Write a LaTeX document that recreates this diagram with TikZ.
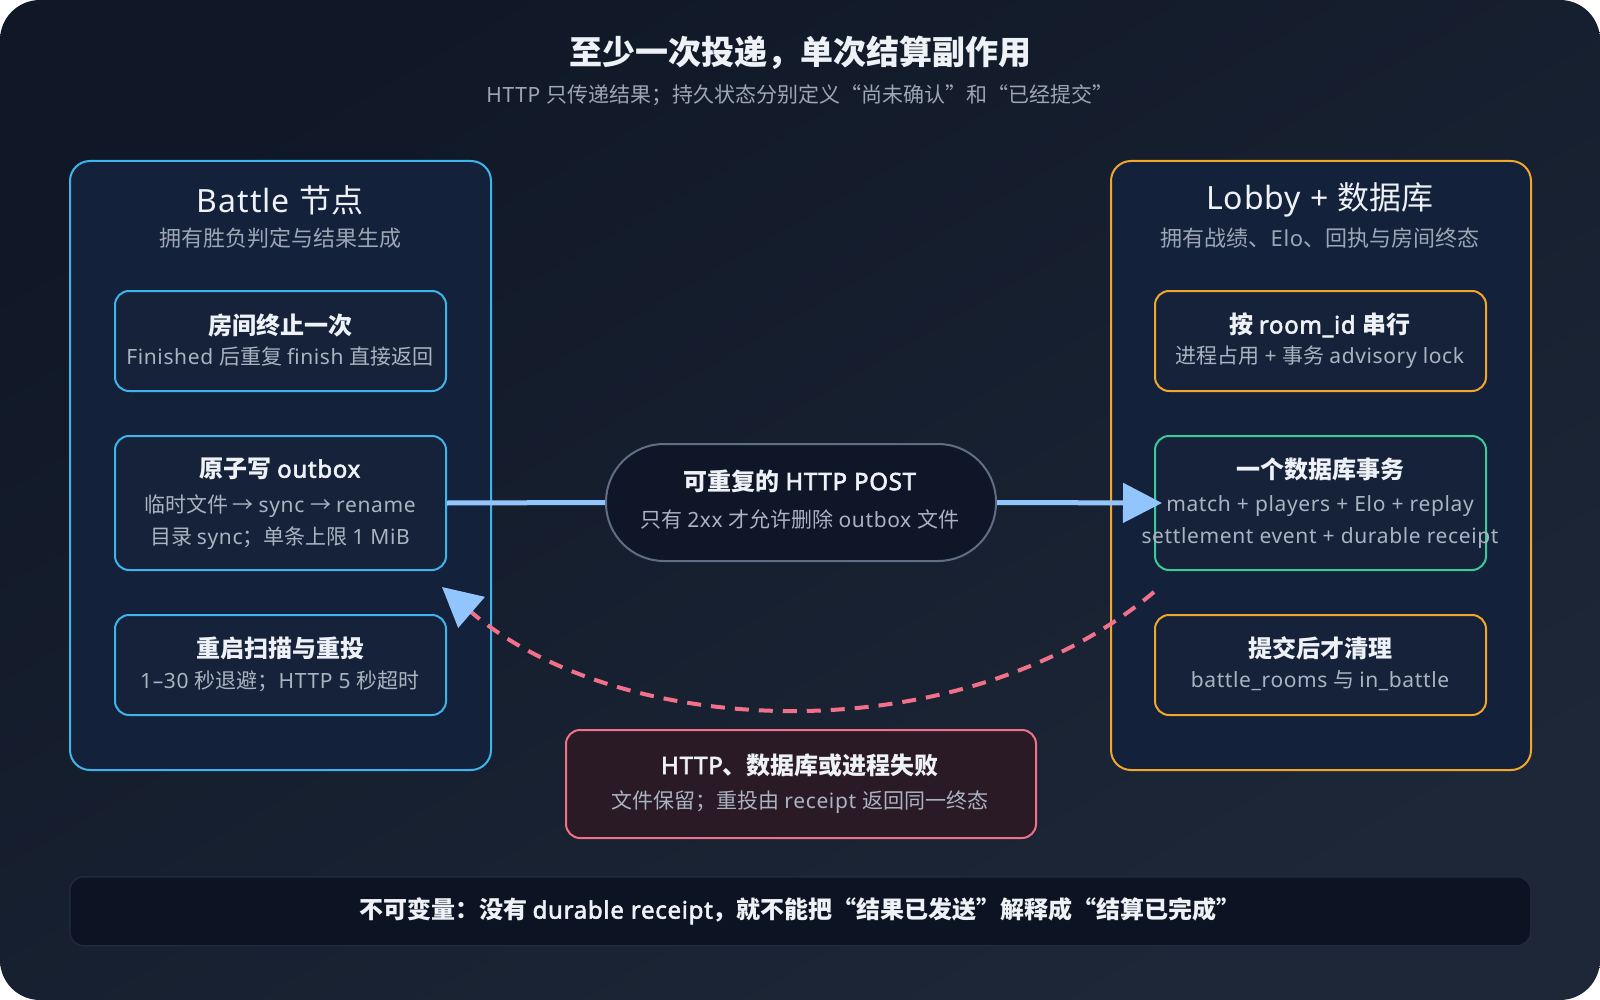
\documentclass[tikz,border=0pt]{standalone}
\usepackage{fontspec}
\setmainfont{Noto Sans}[LetterSpace=3, BoldFont={Noto Sans}, BoldFeatures={FakeBold=2.5}]
\newfontfamily\cjkfont{Noto Sans CJK SC}
\usetikzlibrary{arrows.meta}
% automatic switching between the Latin and the CJK font
\newcount\cjkc
\def\cjkrange#1#2{\cjkc=#1\relax
  \loop\XeTeXcharclass\cjkc=1 \ifnum\cjkc<#2\relax\advance\cjkc by 1 \repeat}
\cjkrange{"4E00}{"9FFF}
\cjkrange{"3000}{"303F}
\cjkrange{"FF00}{"FFEF}
\XeTeXcharclass"2192=1
\XeTeXcharclass"201C=1
\XeTeXcharclass"201D=1
\XeTeXcharclass"2013=0
\XeTeXcharclass"2014=0
\XeTeXinterchartoks 0 1 = {\cjkfont}
\XeTeXinterchartoks 4095 1 = {\cjkfont}
\XeTeXinterchartoks 0 2 = {\cjkfont}
\XeTeXinterchartoks 4095 2 = {\cjkfont}
\XeTeXinterchartoks 0 3 = {\cjkfont}
\XeTeXinterchartoks 4095 3 = {\cjkfont}
\XeTeXinterchartoks 1 0 = {\rmfamily}
\XeTeXinterchartoks 2 0 = {\rmfamily}
\XeTeXinterchartoks 3 0 = {\rmfamily}
\XeTeXinterchartoks 4095 0 = {\rmfamily}
\XeTeXinterchartokenstate=1
\definecolor{bgA}{HTML}{101827}
\definecolor{bgB}{HTML}{1D2737}
\definecolor{contfill}{HTML}{14213A}
\definecolor{boxfill}{HTML}{15223A}
\definecolor{skyb}{HTML}{3DB5EC}
\definecolor{amber}{HTML}{F2A72B}
\definecolor{greenb}{HTML}{3CCB98}
\definecolor{pillb}{HTML}{5F6E85}
\definecolor{pillfill}{HTML}{0E1628}
\definecolor{arrowblue}{HTML}{93C5FD}
\definecolor{rose}{HTML}{F2718A}
\definecolor{redfill}{HTML}{2A1A26}
\definecolor{barfill}{HTML}{0C1424}
\definecolor{barline}{HTML}{1F2A3C}
\definecolor{txtw}{HTML}{EEF2F7}
\definecolor{txtg}{HTML}{9CA6B4}
\definecolor{txtb}{HTML}{AAB3C0}
\tikzset{
  container/.style={draw, line width=2pt, fill=contfill, rounded corners=20pt, inner sep=0pt, anchor=north west},
  card/.style={draw, line width=2pt, fill=boxfill, rounded corners=14pt, inner sep=0pt, anchor=north west, minimum width=331pt},
  maintitle/.style={text=txtw, font=\fontsize{33}{38}\selectfont\bfseries, inner sep=0pt},
  subtitle/.style={text=txtg, font=\fontsize{21}{25}\selectfont, inner sep=0pt},
  conttitle/.style={text=txtw, font=\fontsize{32}{37}\selectfont, inner sep=0pt},
  contsub/.style={text=txtg, font=\fontsize{22}{26}\selectfont, inner sep=0pt},
  cardtitle/.style={text=txtw, font=\fontsize{24}{28}\selectfont\bfseries, inner sep=0pt},
  cardbody/.style={text=txtb, font=\fontsize{21}{25}\selectfont, inner sep=0pt},
  flow/.style={draw=arrowblue, line width=5pt},
  retry/.style={draw=rose, line width=4pt, dash pattern=on 14pt off 10pt},
}
\begin{document}
\begin{tikzpicture}[x=1pt,y=-1pt]
\useasboundingbox (0,0) rectangle (1600,1000);
\fill[white] (0,0) rectangle (1600,1000);
\shade[rounded corners=40pt, top color=bgA, bottom color=bgB, shading angle=30] (0,0) rectangle (1600,1000);

% title
\node[maintitle] (title) at (800,53) {至少一次投递，单次结算副作用};
\node[subtitle] (sub) at (800,95) {HTTP 只传递结果；持久状态分别定义“尚未确认”和“已经提交”};

% containers
\node[container, draw=skyb, minimum width=421pt, minimum height=609pt] (left) at (69,160) {};
\node[container, draw=amber, minimum width=420pt, minimum height=609pt] (right) at (1110,160) {};
\node[conttitle] (lt) at (280,200) {Battle 节点};
\node[contsub] (ls) at (280,238) {拥有胜负判定与结果生成};
\node[conttitle] (rt) at (1320,200) {Lobby + 数据库};
\node[contsub] (rs) at (1320,238) {拥有战绩、Elo、回执与房间终态};

% left cards
\node[card, draw=skyb, minimum height=100pt] (b1) at (114,290) {};
\node[cardtitle] (b1t) at (280,325) {房间终止一次};
\node[cardbody] (b1b) at (280,357) {Finished 后重复 finish 直接返回};

\node[card, draw=skyb, minimum height=134pt] (b2) at (114,435) {};
\node[cardtitle] (b2t) at (280,469) {原子写 outbox};
\node[cardbody] (b2b) at (280,506) {临时文件 → sync → rename};
\node[cardbody] (b2c) at (280,538) {目录 sync；单条上限 1 MiB};

\node[card, draw=skyb, minimum height=100pt] (b3) at (114,614) {};
\node[cardtitle] (b3t) at (280,648) {重启扫描与重投};
\node[cardbody] (b3b) at (280,681) {1–30 秒退避；HTTP 5 秒超时};

% right cards
\node[card, draw=amber, minimum height=100pt] (r1) at (1154,290) {};
\node[cardtitle] (r1t) at (1320,325) {按 room\_id 串行};
\node[cardbody] (r1b) at (1320,357) {进程占用 + 事务 advisory lock};

\node[card, draw=greenb, minimum height=134pt] (r2) at (1154,435) {};
\node[cardtitle] (r2t) at (1320,469) {一个数据库事务};
\node[cardbody] (r2b) at (1320,506) {match + players + Elo + replay};
\node[cardbody] (r2c) at (1320,538) {settlement event + durable receipt};

\node[card, draw=amber, minimum height=100pt] (r3) at (1154,614) {};
\node[cardtitle] (r3t) at (1320,648) {提交后才清理};
\node[cardbody] (r3b) at (1320,681) {battle\_rooms 与 in\_battle};

% pill
\node[draw=pillb, line width=2pt, fill=pillfill, rounded corners=58pt, inner sep=0pt, anchor=north west, minimum width=390pt, minimum height=117pt] (pill) at (605,443) {};
\node[cardtitle] (pt) at (800,481) {可重复的 HTTP POST};
\node[cardbody] (pb) at (800,519) {只有 2xx 才允许删除 outbox 文件};

% failure box
\node[draw=rose, line width=2pt, fill=redfill, rounded corners=14pt, inner sep=0pt, anchor=north west, minimum width=470pt, minimum height=108pt] (fail) at (565,729) {};
\node[cardtitle] (ft) at (800,765) {HTTP、数据库或进程失败};
\node[cardbody] (fb) at (800,802) {文件保留；重投由 receipt 返回同一终态};

% invariant bar
\node[draw=barline, line width=1.5pt, fill=barfill, rounded corners=14pt, inner sep=0pt, anchor=north west, minimum width=1461pt, minimum height=69pt] (bar) at (69,876) {};
\node[text=txtw, font=\fontsize{24}{28}\selectfont\bfseries, inner sep=0pt] (bt) at (800,911) {不可变量：没有 durable receipt，就不能把“结果已发送”解释成“结算已完成”};

% connectors
\coordinate (r2in) at ([xshift=8pt]r2.west);
\draw[flow] (b2.east) -- (pill.west);
\draw[flow, -{Triangle[length=39pt, width=39pt]}] (pill.east) -- (r2in);

\coordinate (retryS) at ([yshift=-21pt]r2.south west);
\coordinate (retryE) at ([xshift=-5pt, yshift=-16pt]b2.south east);
\draw[retry, -{Triangle[length=39pt, width=40pt, color=arrowblue]}] (retryS) .. controls (960,755) and (620,740) .. (retryE);
\end{tikzpicture}
\end{document}
